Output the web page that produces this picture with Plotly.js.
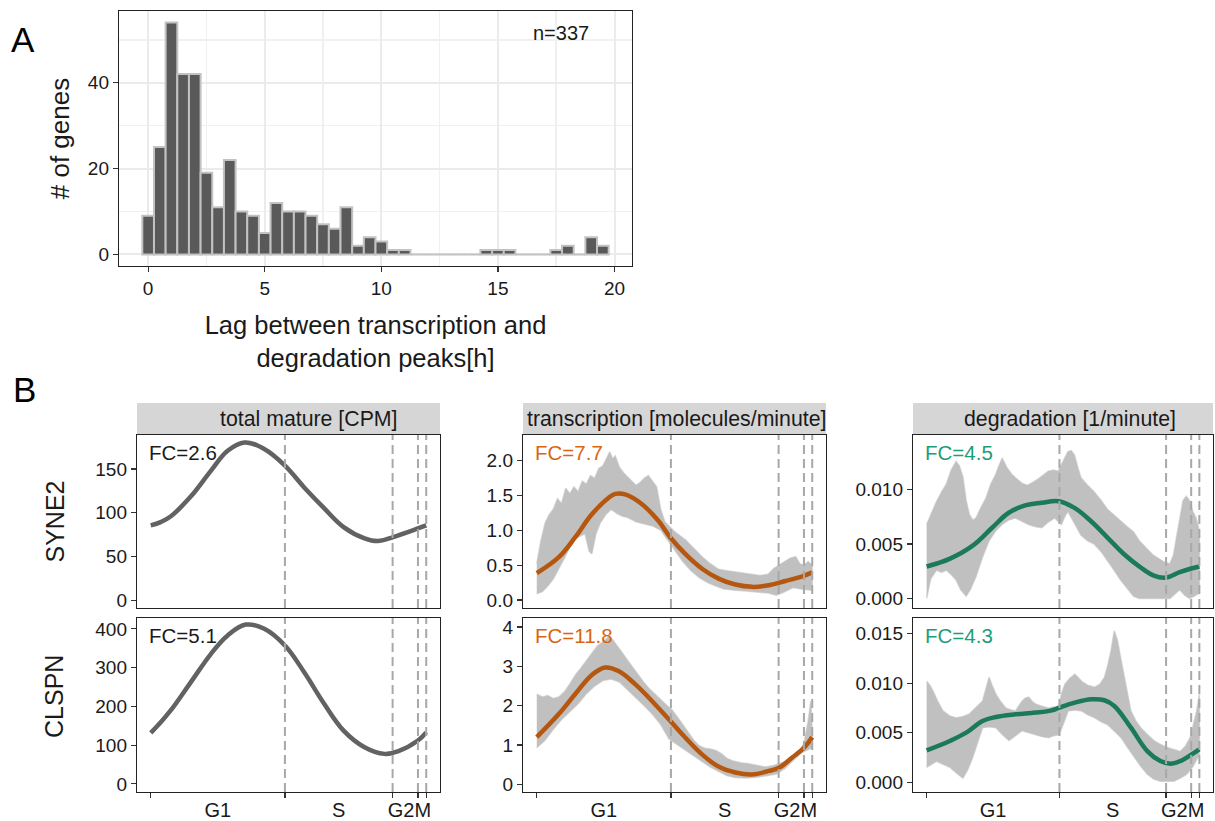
<!DOCTYPE html>
<html><head><meta charset="utf-8">
<script src="https://cdn.plot.ly/plotly-3.0.1.min.js"></script>
<style>html,body{margin:0;padding:0;background:#fff}</style>
</head><body>
<div id="chart" style="width:1215px;height:821px"></div>
<script>
// ---------- Panel A: histogram of lags ----------
const lagBins = [0,0.5,1,1.5,2,2.5,3,3.5,4,4.5,5,5.5,6,6.5,7,7.5,8,8.5,9,9.5,10,10.5,11,11.5,12,12.5,13,13.5,14,14.5,15,15.5,16,16.5,17,17.5,18,18.5,19,19.5];
const lagCounts = [9,25,54,42,42,19,11,22,10,9,5,12,10,10,9,7,6,11,2,4,3,1,1,0,0,0,0,0,0,1,1,1,0,0,0,1,2,0,4,2];
const nGenes = 337;

// ---------- Panel B ----------
const genes = ["SYNE2","CLSPN"];
const measures = ["total mature [CPM]","transcription [molecules/minute]","degradation [1/minute]"];
const phaseLabels = ["G1","S","G2M"];
const phaseBounds = [0.487,0.878,0.97,1.0];
const phaseLabelPos = [0.2435,0.6825,0.939];
const fcLabels = [["FC=2.6","FC=7.7","FC=4.5"],["FC=5.1","FC=11.8","FC=4.3"]];

// SYNE2 total mature
const syne2TotT = [0,0.036,0.073,0.145,0.218,0.279,0.34,0.412,0.487,0.557,0.63,0.70,0.776,0.824,0.88,0.97,1.0];
const syne2TotV = [85.5,89.3,96,118.5,148,171,180.5,173,154,129,105,83.6,70.7,67.6,72.2,82,85.5];
// CLSPN total mature
const clspnTotT = [0,0.036,0.073,0.145,0.218,0.279,0.345,0.412,0.487,0.557,0.63,0.70,0.776,0.848,0.897,0.97,1.0];
const clspnTotV = [131.6,159,190,262,335,383,411,400,357,288,206,137.5,94.5,77.4,84,112,133];

// SYNE2 transcription: fit and band
const syne2TxT = [0,0.079,0.139,0.2,0.26,0.285,0.321,0.382,0.442,0.485,0.539,0.6,0.66,0.721,0.782,0.842,0.903,0.964,1.0];
const syne2TxV = [0.386,0.61,0.895,1.226,1.46,1.518,1.51,1.37,1.13,0.895,0.66,0.448,0.307,0.222,0.189,0.212,0.273,0.34,0.396];
const syne2TxUpT = [0,0.015,0.03,0.045,0.06,0.075,0.09,0.105,0.12,0.135,0.15,0.165,0.18,0.195,0.21,0.225,0.24,0.255,0.265,0.275,0.285,0.3,0.315,0.33,0.345,0.36,0.375,0.39,0.405,0.42,0.435,0.45,0.465,0.48,0.5,0.52,0.54,0.56,0.58,0.6,0.63,0.66,0.69,0.72,0.75,0.78,0.81,0.84,0.86,0.88,0.9,0.92,0.94,0.955,0.97,0.985,1.0];
const syne2TxUpV = [0.52,0.85,1.10,1.22,1.30,1.45,1.38,1.60,1.52,1.62,1.55,1.70,1.66,1.78,1.74,1.88,1.92,2.05,2.12,2.02,2.06,1.90,1.82,1.76,1.70,1.64,1.68,1.74,1.78,1.70,1.62,1.30,1.12,1.06,0.98,0.92,0.86,0.78,0.70,0.62,0.52,0.44,0.42,0.40,0.38,0.36,0.35,0.37,0.45,0.50,0.55,0.60,0.62,0.52,0.50,0.55,0.50];
const syne2TxLoT = [0,0.02,0.04,0.06,0.08,0.1,0.12,0.14,0.16,0.175,0.19,0.2,0.215,0.23,0.25,0.27,0.29,0.31,0.33,0.36,0.39,0.42,0.45,0.47,0.49,0.51,0.53,0.56,0.59,0.62,0.65,0.68,0.72,0.76,0.8,0.84,0.87,0.9,0.93,0.96,1.0];
const syne2TxLoV = [0.09,0.12,0.20,0.30,0.45,0.60,0.75,0.88,0.92,0.95,0.70,0.66,0.95,1.10,1.22,1.30,1.24,1.20,1.18,1.12,1.09,1.06,1.00,0.88,0.78,0.66,0.55,0.42,0.32,0.25,0.20,0.16,0.14,0.13,0.12,0.10,0.07,0.12,0.18,0.16,0.14];

// CLSPN transcription: fit and band
const clspnTxT = [0,0.079,0.139,0.2,0.248,0.297,0.358,0.418,0.485,0.539,0.6,0.66,0.721,0.782,0.842,0.879,0.927,0.97,1.0];
const clspnTxV = [1.2,1.78,2.29,2.78,2.97,2.88,2.54,2.12,1.61,1.19,0.76,0.45,0.30,0.25,0.34,0.42,0.68,0.93,1.2];
const clspnTxUpT = [0,0.02,0.04,0.06,0.08,0.1,0.12,0.14,0.16,0.18,0.2,0.22,0.24,0.26,0.275,0.29,0.31,0.33,0.35,0.37,0.39,0.41,0.43,0.45,0.47,0.49,0.51,0.53,0.55,0.57,0.59,0.61,0.63,0.65,0.67,0.69,0.71,0.74,0.77,0.8,0.83,0.86,0.89,0.92,0.95,0.97,0.985,0.995,1.0];
const clspnTxUpV = [2.29,2.22,2.26,2.18,2.22,2.35,2.55,2.78,2.95,3.15,3.35,3.52,3.62,3.75,3.68,3.55,3.35,3.15,2.95,2.78,2.58,2.42,2.28,2.15,2.02,1.90,1.72,1.52,1.32,1.12,0.98,0.92,0.90,0.86,0.78,0.66,0.60,0.55,0.52,0.48,0.44,0.48,0.55,0.62,0.75,1.05,1.60,2.12,1.27];
const clspnTxLoT = [0,0.03,0.06,0.09,0.12,0.15,0.18,0.21,0.24,0.27,0.3,0.33,0.36,0.39,0.42,0.45,0.48,0.51,0.54,0.57,0.6,0.63,0.66,0.69,0.72,0.76,0.8,0.84,0.87,0.9,0.93,0.96,1.0];
const clspnTxLoV = [0.93,1.12,1.40,1.65,1.85,2.05,2.30,2.50,2.64,2.68,2.60,2.42,2.20,2.00,1.78,1.52,1.15,1.00,0.85,0.72,0.58,0.44,0.32,0.22,0.17,0.16,0.18,0.22,0.26,0.40,0.60,0.80,0.93];

// SYNE2 degradation: fit and band
const syne2DgT = [0,0.084,0.169,0.241,0.301,0.361,0.422,0.484,0.542,0.602,0.663,0.723,0.783,0.831,0.876,0.928,0.967,1.0];
const syne2DgV = [0.00294,0.00364,0.00485,0.00652,0.00788,0.00855,0.00879,0.00894,0.00833,0.00712,0.0056,0.00409,0.00288,0.00212,0.00191,0.00242,0.00273,0.00294];
const syne2DgUpT = [0,0.02,0.036,0.055,0.072,0.09,0.108,0.12,0.133,0.145,0.157,0.17,0.181,0.2,0.217,0.235,0.253,0.265,0.277,0.295,0.313,0.33,0.349,0.37,0.398,0.42,0.446,0.465,0.482,0.5,0.518,0.53,0.542,0.555,0.566,0.59,0.614,0.64,0.663,0.69,0.711,0.735,0.759,0.78,0.807,0.83,0.855,0.875,0.892,0.905,0.916,0.928,0.94,0.952,0.964,0.976,0.988,1.0];
const syne2DgUpV = [0.0068,0.0080,0.0089,0.0098,0.0105,0.0118,0.0126,0.0122,0.0112,0.0090,0.0077,0.0072,0.0074,0.0084,0.0092,0.0105,0.0114,0.0122,0.0129,0.0120,0.0114,0.0110,0.0106,0.0104,0.0108,0.0112,0.0117,0.0118,0.0117,0.0126,0.0135,0.0136,0.0132,0.0120,0.0111,0.0104,0.0098,0.0090,0.0082,0.0076,0.0071,0.0066,0.0061,0.0053,0.0046,0.0040,0.0036,0.0033,0.0032,0.0040,0.0056,0.0075,0.0090,0.0094,0.0090,0.0080,0.0074,0.0062];
const syne2DgLoT = [0,0.015,0.036,0.055,0.072,0.09,0.108,0.125,0.145,0.16,0.181,0.205,0.229,0.253,0.277,0.3,0.325,0.35,0.373,0.4,0.422,0.445,0.47,0.485,0.494,0.508,0.518,0.54,0.566,0.59,0.614,0.64,0.663,0.69,0.711,0.735,0.759,0.78,0.807,0.855,0.892,0.91,0.928,0.946,0.964,0.98,1.0];
const syne2DgLoV = [0.0000,0.0018,0.0026,0.0024,0.0026,0.0022,0.0017,0.0008,0.0002,0.0008,0.0020,0.0038,0.0053,0.0062,0.0068,0.0072,0.0074,0.0071,0.0068,0.0066,0.0065,0.0070,0.0074,0.0070,0.0068,0.0076,0.0080,0.0070,0.0058,0.0053,0.0050,0.0043,0.0035,0.0025,0.0017,0.0009,0.0002,0.0000,0.0000,0.0000,0.0000,0.0004,0.0008,0.0003,0.0000,0.0002,0.0005];

// CLSPN degradation: fit and band
const clspnDgT = [0,0.085,0.145,0.205,0.254,0.326,0.399,0.459,0.486,0.543,0.604,0.652,0.688,0.749,0.809,0.857,0.894,0.93,0.966,1.0];
const clspnDgV = [0.00321,0.00416,0.005,0.00618,0.00659,0.00686,0.00703,0.00726,0.00753,0.00804,0.00838,0.00828,0.0077,0.00551,0.00314,0.00213,0.00186,0.00213,0.0027,0.00331];
const clspnDgUpT = [0,0.012,0.024,0.04,0.06,0.085,0.109,0.13,0.157,0.18,0.205,0.218,0.229,0.24,0.254,0.27,0.29,0.31,0.326,0.34,0.35,0.362,0.374,0.386,0.399,0.42,0.447,0.465,0.483,0.495,0.507,0.525,0.543,0.555,0.568,0.59,0.616,0.635,0.652,0.664,0.676,0.688,0.7,0.712,0.725,0.737,0.749,0.767,0.785,0.81,0.833,0.858,0.882,0.906,0.93,0.948,0.966,0.978,0.99,1.0];
const clspnDgUpV = [0.0102,0.0098,0.0092,0.0082,0.0072,0.0067,0.0065,0.0066,0.0069,0.0075,0.0082,0.0095,0.0106,0.0098,0.0089,0.0082,0.0075,0.0073,0.0072,0.0078,0.0082,0.0085,0.0086,0.0082,0.0079,0.0077,0.0075,0.0076,0.0075,0.0090,0.0099,0.0105,0.0109,0.0106,0.0102,0.0098,0.0096,0.0099,0.0106,0.0118,0.0133,0.0153,0.0143,0.0125,0.0106,0.0088,0.0072,0.0062,0.0055,0.0048,0.0042,0.0038,0.0035,0.0033,0.0031,0.0036,0.0045,0.0058,0.0072,0.0089];
const clspnDgLoT = [0,0.036,0.06,0.085,0.11,0.133,0.15,0.169,0.187,0.205,0.23,0.254,0.278,0.302,0.326,0.35,0.375,0.399,0.423,0.447,0.466,0.486,0.503,0.519,0.543,0.568,0.592,0.616,0.64,0.664,0.688,0.713,0.737,0.761,0.785,0.809,0.833,0.857,0.882,0.906,0.93,0.954,0.977,1.0];
const clspnDgLoV = [0.0015,0.0021,0.0018,0.0015,0.0009,0.0004,0.0012,0.0025,0.0040,0.0055,0.0056,0.0055,0.0048,0.0042,0.0047,0.0052,0.0050,0.0048,0.0046,0.0045,0.0047,0.0048,0.0060,0.0072,0.0073,0.0072,0.0068,0.0065,0.0061,0.0058,0.0052,0.0045,0.0035,0.0025,0.0016,0.0008,0.0003,0.0001,0.0001,0.0001,0.0004,0.0008,0.0016,0.0028];

// ---------- styling / geometry ----------
const W = 1215, H = 821;
const px = x => x / W, py = y => 1 - y / H;
const FONT = "Liberation Sans, Arial, Helvetica, sans-serif";
const INK = "#1a1a1a";
const lineCols = ["#626262", "#b5570f", "#1b7a5c"];
const textCols = [INK, "#d9650f", "#1b9e77"];
const bandCol = "rgba(192,192,192,1)";
const colX = [[137,440],[523,826],[913,1213]];
const stripTextX = [309,676,1070];
const rowY = [[435,608],[618,792]];
const stripY = [403,434];
const yRanges = [[[-9,189],[-0.113,2.36],[-0.00088,0.01503]],[[-21,428],[-0.196,4.23],[-0.001,0.0166]]];
const yTicks = [[[0,50,100,150],[0,0.5,1,1.5,2],[0,0.005,0.01]],[[0,100,200,300,400],[0,1,2,3,4],[0,0.005,0.01,0.015]]];
const yFmt = [["d",".1f",".3f"],["d","d",".3f"]];

const fits = [[[syne2TotT,syne2TotV],[syne2TxT,syne2TxV],[syne2DgT,syne2DgV]],
              [[clspnTotT,clspnTotV],[clspnTxT,clspnTxV],[clspnDgT,clspnDgV]]];
const bands = [[null,[syne2TxUpT,syne2TxUpV,syne2TxLoT,syne2TxLoV],[syne2DgUpT,syne2DgUpV,syne2DgLoT,syne2DgLoV]],
               [null,[clspnTxUpT,clspnTxUpV,clspnTxLoT,clspnTxLoV],[clspnDgUpT,clspnDgUpV,clspnDgLoT,clspnDgLoV]]];

const traces = [];
const layout = {
  width: W, height: H, margin: {l:0,r:0,t:0,b:0},
  paper_bgcolor: "#fff", plot_bgcolor: "rgba(0,0,0,0)",
  showlegend: false, bargap: 0,
  font: {family: FONT, size: 19, color: INK},
  shapes: [], annotations: []
};

// Panel A
traces.push({type:"bar", x: lagBins, y: lagCounts, width: 0.5, xaxis:"x", yaxis:"y",
  marker:{color:"#595959", line:{color:"#c2c2c2", width:2}}, hoverinfo:"skip"});
layout.xaxis = {domain:[px(119), px(632)], range:[-1.25,20.75], anchor:"y",
  tickvals:[0,5,10,15,20], ticks:"outside", ticklen:5, tickcolor:"#333", tickwidth:1.2,
  showgrid:true, gridcolor:"#ebebeb", gridwidth:2, zeroline:false,
  minor:{tickmode:"linear", tick0:2.5, dtick:5, showgrid:true, gridcolor:"#f0f0f0", gridwidth:1.5, ticks:""},
  showline:true, mirror:true, linecolor:"#222", linewidth:1.2,
  tickfont:{size:19, color:INK}, automargin:false,
  title:{text:"Lag between transcription and<br>degradation peaks[h]", font:{size:25.5, color:INK}, standoff:18}};
layout.yaxis = {domain:[py(266), py(11)], range:[-2.7,56.7], anchor:"x",
  tickvals:[0,20,40], ticks:"outside", ticklen:5, tickcolor:"#333", tickwidth:1.2,
  showgrid:true, gridcolor:"#ebebeb", gridwidth:2, zeroline:false,
  minor:{tickmode:"linear", tick0:10, dtick:20, showgrid:true, gridcolor:"#f0f0f0", gridwidth:1.5, ticks:""},
  showline:true, mirror:true, linecolor:"#222", linewidth:1.2,
  tickfont:{size:19, color:INK}, automargin:false,
  title:{text:"# of genes", font:{size:26, color:INK}, standoff:10}};
layout.annotations.push({xref:"x", yref:"paper", x:17.7, y:py(33), text:"n="+nGenes, showarrow:false,
  font:{size:20, color:INK}, xanchor:"center", yanchor:"middle"});
layout.annotations.push({xref:"paper", yref:"paper", x:px(9), y:py(40), text:"A", showarrow:false,
  font:{size:35, color:"#000"}, xanchor:"left", yanchor:"middle"});
layout.annotations.push({xref:"paper", yref:"paper", x:px(11), y:py(389), text:"B", showarrow:false,
  font:{size:35, color:"#000"}, xanchor:"left", yanchor:"middle"});

// Panel B
let idx = 2;
for (let r = 0; r < 2; r++) {
  for (let c = 0; c < 3; c++) {
    const xa = "x" + idx, ya = "y" + idx;
    const band = bands[r][c];
    if (band) {
      const [ut, uv, lt, lv] = band;
      traces.push({type:"scatter", mode:"lines", xaxis:xa, yaxis:ya,
        x: ut.concat(lt.slice().reverse()), y: uv.concat(lv.slice().reverse()),
        fill:"toself", fillcolor:bandCol, line:{color:"rgba(192,192,192,0.6)", width:1.5}, hoverinfo:"skip"});
    }
    const [ft, fv] = fits[r][c];
    traces.push({type:"scatter", mode:"lines", xaxis:xa, yaxis:ya, x: ft, y: fv,
      line:{color: lineCols[c], width:4.5, shape:"spline", smoothing:1.1}, hoverinfo:"skip"});

    const xax = {domain:[px(colX[c][0]), px(colX[c][1])], range:[-0.05,1.05], anchor: ya,
      showgrid:false, zeroline:false, showline:true, mirror:true, linecolor:"#222", linewidth:1.2,
      automargin:false};
    if (r === 1) {
      Object.assign(xax, {tickmode:"array", tickvals: phaseLabelPos, ticktext: phaseLabels, ticks:"",
        tickfont:{size:20, color:INK},
        minor:{tickmode:"array", tickvals:[0].concat(phaseBounds), ticks:"outside", ticklen:5, tickcolor:"#333", tickwidth:1.2, showgrid:false}});
    } else {
      Object.assign(xax, {showticklabels:false, ticks:""});
    }
    layout["xaxis" + idx] = xax;
    layout["yaxis" + idx] = {domain:[py(rowY[r][1]), py(rowY[r][0])], range: yRanges[r][c], anchor: xa,
      tickvals: yTicks[r][c], tickformat: yFmt[r][c], ticks:"outside", ticklen:5, tickcolor:"#333", tickwidth:1.2,
      showgrid:false, zeroline:false, showline:true, mirror:true, linecolor:"#222", linewidth:1.2,
      tickfont:{size:19, color:INK}, automargin:false};

    phaseBounds.forEach(b => layout.shapes.push({type:"line", xref:xa, yref: ya + " domain",
      x0:b, x1:b, y0:0, y1:1, line:{color:"#a8a8a8", width:2, dash:"9px,5px"}, layer:"above"}));

    layout.annotations.push({xref:xa, yref:"paper", x:0, y:py(rowY[r][0]+17), text: fcLabels[r][c],
      showarrow:false, xanchor:"left", yanchor:"middle", xshift:-4, font:{size:20.5, color:textCols[c]}});
    idx++;
  }
}
// strips
for (let c = 0; c < 3; c++) {
  layout.shapes.push({type:"rect", xref:"paper", yref:"paper", x0:px(colX[c][0]), x1:px(colX[c][1]),
    y0:py(stripY[1]), y1:py(stripY[0]), fillcolor:"#d6d6d6", line:{width:0}, layer:"below"});
  layout.annotations.push({xref:"paper", yref:"paper", x:px(stripTextX[c]), y:py((stripY[0]+stripY[1])/2),
    text: measures[c], showarrow:false, xanchor:"center", yanchor:"middle", font:{size:21.3, color:INK}});
}
// row labels
for (let r = 0; r < 2; r++) {
  layout.annotations.push({xref:"paper", yref:"paper", x:px(54), y:py((rowY[r][0]+rowY[r][1])/2 - (r===1?8:0)),
    text: genes[r], textangle:-90, showarrow:false, xanchor:"center", yanchor:"middle", font:{size:25, color:INK}});
}

Plotly.newPlot("chart", traces, layout, {staticPlot:true, displayModeBar:false});
</script>
</body></html>
